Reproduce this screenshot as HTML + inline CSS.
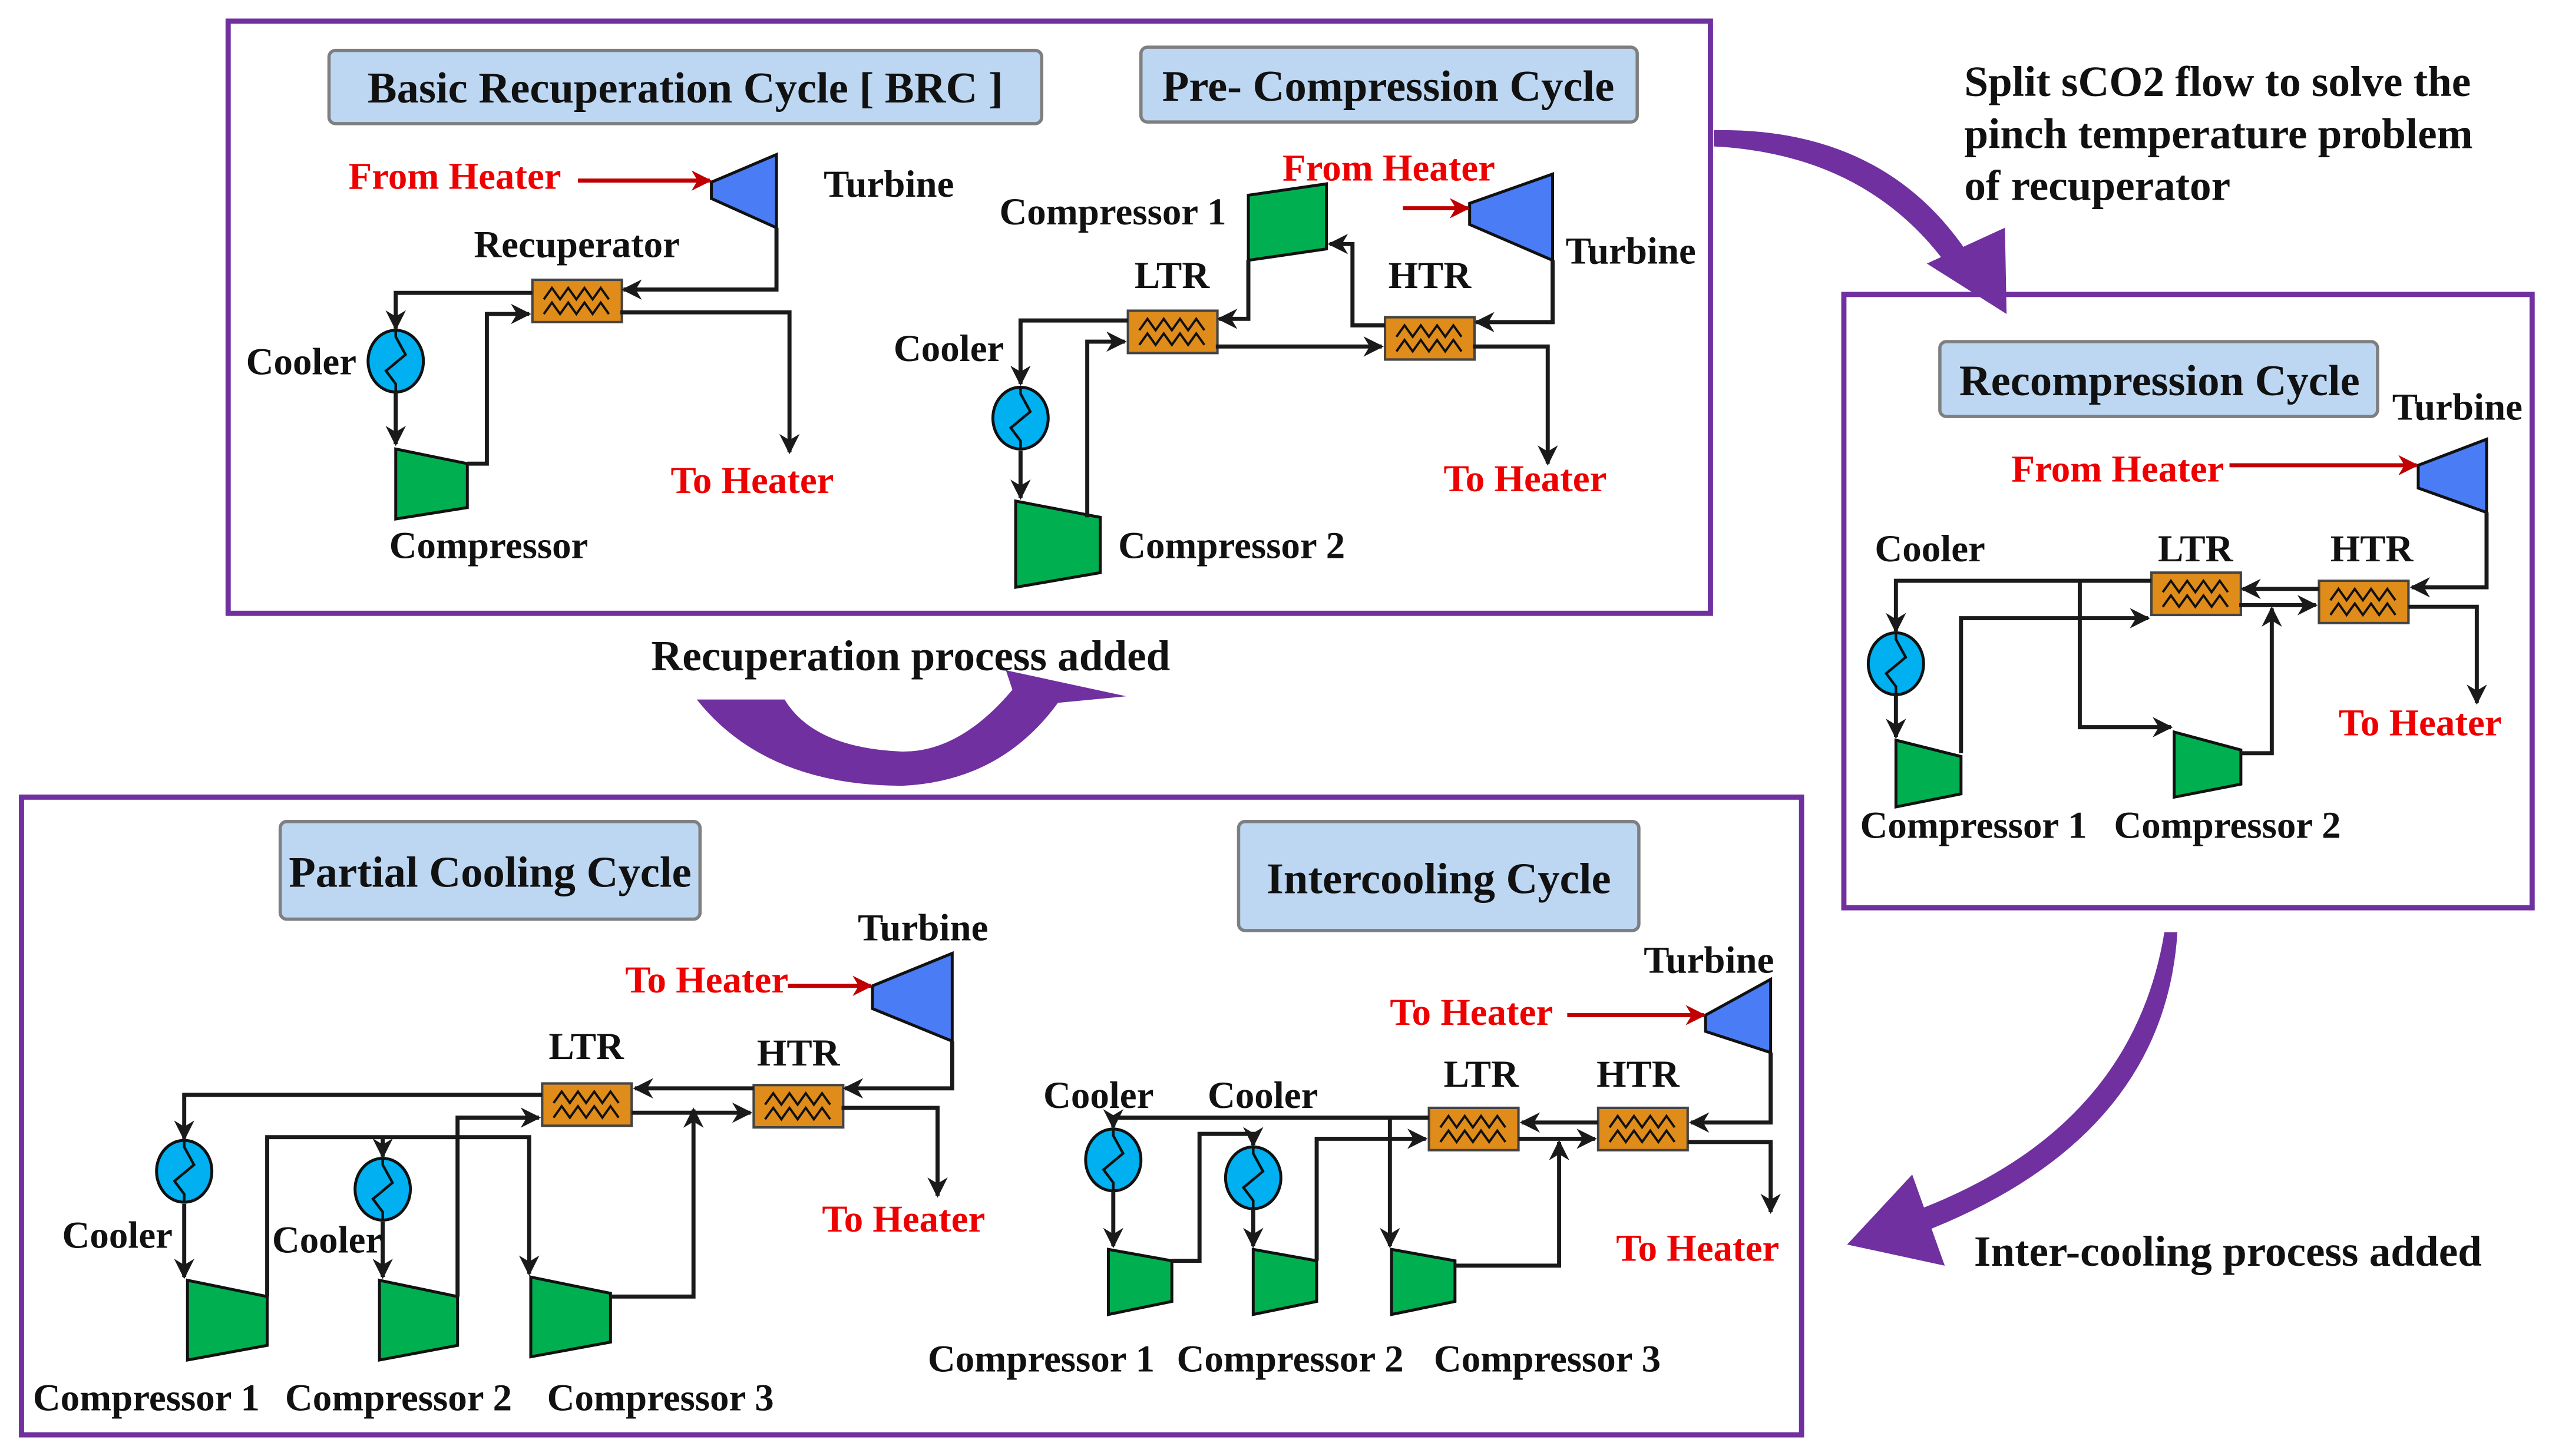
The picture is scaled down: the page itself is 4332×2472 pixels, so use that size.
<!DOCTYPE html>
<html><head><meta charset="utf-8"><style>
html,body{margin:0;padding:0;background:#fff}
svg{display:block}
text{font-family:"Liberation Serif",serif;font-weight:bold;fill:#111}
.r{fill:#ee0000}
</style></head><body>
<svg width="4332" height="2472" viewBox="0 0 1568 895" xmlns="http://www.w3.org/2000/svg">
<defs>
<marker id="a" viewBox="0 0 10 10" refX="9" refY="5" markerWidth="5" markerHeight="5" orient="auto" markerUnits="strokeWidth"><path d="M0,0 L10,5 L0,10 L3,5 Z" fill="#1a1a1a"/></marker>
<marker id="ar" viewBox="0 0 10 10" refX="9" refY="5" markerWidth="5" markerHeight="5" orient="auto" markerUnits="strokeWidth"><path d="M0,0 L10,5 L0,10 L3,5 Z" fill="#c00000"/></marker>
<g id="hx"><rect x="0" y="0" width="55" height="26" fill="#df8c1a" stroke="#444" stroke-width="1.5"/>
<polyline points="7,12 12,5 17,12 22,5 27,12 32,5 37,12 42,5 47,12" fill="none" stroke="#111" stroke-width="1.4"/>
<polyline points="7,21 12,14 17,21 22,14 27,21 32,14 37,21 42,14 47,21" fill="none" stroke="#111" stroke-width="1.4"/></g>
<g id="cl"><ellipse cx="0" cy="0" rx="17" ry="19" fill="#00b0f0" stroke="#111" stroke-width="1.8"/>
<polyline points="0,-19 0,-15 6,-4 -6,6 0,14 0,19" fill="none" stroke="#111" stroke-width="1.6"/></g>
</defs>
<g fill="none" stroke-width="3.2" stroke="#7030a0">
<rect x="140" y="13" width="911" height="364"/>
<rect x="1133" y="181" width="423" height="377"/>
<rect x="13" y="490" width="1094" height="392"/>
</g>
<g fill="#bdd7f2" stroke="#7f7f7f" stroke-width="2">
<rect x="202" y="31" width="438" height="45" rx="4"/>
<rect x="701" y="29" width="305" height="46" rx="4"/>
<rect x="1192" y="210" width="269" height="46" rx="4"/>
<rect x="172" y="505" width="258" height="60" rx="4"/>
<rect x="761" y="505" width="246" height="67" rx="4"/>
</g>
<g font-size="27" text-anchor="middle">
<text x="421" y="63">Basic Recuperation Cycle [ BRC ]</text>
<text x="853" y="62">Pre- Compression Cycle</text>
<text x="1327" y="243">Recompression Cycle</text>
<text x="301" y="545">Partial Cooling Cycle</text>
<text x="884" y="549">Intercooling Cycle</text>
</g>
<g font-size="26.5">
<text x="1207" y="59">Split sCO2 flow to solve the</text>
<text x="1207" y="91">pinch temperature problem</text>
<text x="1207" y="123">of recuperator</text>
<text x="400" y="412">Recuperation process added</text>
<text x="1213" y="778">Inter-cooling process added</text>
</g>
<!-- purple arrows -->
<g fill="#7030a0">
<path d="M1053,80 Q1160,78 1212,160 L1200,168 Q1150,95 1053,90 Z"/>
<polygon points="1184,162 1233,193 1232,140"/>
<path d="M428,430 Q470,483 555,483 Q615,480 650,432 L692,428 L618,412 L622,424 Q590,462 555,462 Q500,460 482,430 Z"/>
<path d="M1330,573 L1338,573 Q1330,700 1180,758 L1175,745 Q1310,695 1330,573 Z"/>
<polygon points="1135,765 1175,722 1195,778"/>
</g>
<!-- turbines / compressors -->
<g stroke="#111" stroke-width="1.8">
<g fill="#4a7cf5">
<polygon points="437,112 477,95 477,140 437,122"/>
<polygon points="903,125 954,107 954,160 903,138"/>
<polygon points="1486,286 1528,270 1528,315 1486,300"/>
<polygon points="536,606 585,586 585,640 536,620"/>
<polygon points="1048,624 1088,602 1088,647 1048,634"/>
</g>
<g fill="#00b050">
<polygon points="243,276 287,285 287,312 243,319"/>
<polygon points="767,120 815,113 815,153 767,160"/>
<polygon points="624,308 676,318 676,352 624,361"/>
<polygon points="1165,455 1205,465 1205,488 1165,496"/>
<polygon points="1336,450 1377,461 1377,482 1336,490"/>
<polygon points="115,787 164,797 164,827 115,836"/>
<polygon points="233,787 281,797 281,827 233,836"/>
<polygon points="326,785 375,795 375,825 326,834"/>
<polygon points="681,768 720,775 720,800 681,808"/>
<polygon points="770,768 809,775 809,800 770,808"/>
<polygon points="855,768 894,775 894,800 855,808"/>
</g>
</g>
<!-- heat exchangers -->
<use href="#hx" x="327" y="172"/>
<use href="#hx" x="693" y="191"/>
<use href="#hx" x="851" y="195"/>
<use href="#hx" x="1322" y="352"/>
<use href="#hx" x="1425" y="357"/>
<use href="#hx" x="333" y="666"/>
<use href="#hx" x="463" y="667"/>
<use href="#hx" x="878" y="681"/>
<use href="#hx" x="982" y="681"/>
<!-- coolers -->
<use href="#cl" x="243" y="222"/>
<use href="#cl" x="627" y="257"/>
<use href="#cl" x="1165" y="408"/>
<use href="#cl" x="113" y="720"/>
<use href="#cl" x="235" y="731"/>
<use href="#cl" x="684" y="713"/>
<use href="#cl" x="770" y="724"/>
<!-- red arrows -->
<g stroke="#c00000" stroke-width="2.5" fill="none" marker-end="url(#ar)">
<line x1="355" y1="111" x2="436" y2="111"/>
<line x1="862" y1="128" x2="902" y2="128"/>
<line x1="1370" y1="286" x2="1485" y2="286"/>
<line x1="484" y1="606" x2="535" y2="606"/>
<line x1="963" y1="624" x2="1047" y2="624"/>
</g>
<!-- black flow lines -->
<g stroke="#1a1a1a" stroke-width="2.5" fill="none" marker-end="url(#a)">
<polyline points="477,140 477,178 383,178"/>
<polyline points="327,180 243,180 243,202"/>
<polyline points="243,241 243,273"/>
<polyline points="287,285 299,285 299,193 325,193"/>
<polyline points="381,192 485,192 485,278"/>
<polyline points="954,160 954,198 907,198"/>
<polyline points="905,213 951,213 951,285"/>
<polyline points="851,200 831,200 831,150 817,150"/>
<polyline points="767,160 767,196 749,196"/>
<polyline points="747,213 849,213"/>
<polyline points="693,197 627,197 627,236"/>
<polyline points="627,277 627,306"/>
<polyline points="668,318 668,210 691,210"/>
<polyline points="1528,315 1528,361 1482,361"/>
<polyline points="1480,373 1522,373 1522,432"/>
<polyline points="1425,362 1378,362"/>
<polyline points="1322,357 1165,357 1165,388"/>
<polyline points="1165,427 1165,453"/>
<polyline points="1205,463 1205,380 1320,380"/>
<polyline points="1278,357 1278,447 1334,447"/>
<polyline points="1377,463 1396,463 1396,374"/>
<polyline points="1376,372 1423,372"/>
<polyline points="585,640 585,669 519,669"/>
<polyline points="517,681 576,681 576,735"/>
<polyline points="463,669 390,669"/>
<polyline points="333,673 113,673 113,700"/>
<polyline points="113,740 113,785"/>
<polyline points="164,797 164,699 325,699 325,783"/>
<polyline points="235,699 235,711"/>
<polyline points="235,751 235,785"/>
<polyline points="281,797 281,687 331,687"/>
<polyline points="375,797 426,797 426,682"/>
<polyline points="388,684 461,684"/>
<polyline points="1088,647 1088,690 1039,690"/>
<polyline points="1037,702 1088,702 1088,745"/>
<polyline points="982,690 935,690"/>
<polyline points="878,687 684,687 684,693"/>
<polyline points="684,732 684,766"/>
<polyline points="720,775 737,775 737,697 770,697 770,704"/>
<polyline points="770,743 770,766"/>
<polyline points="809,775 809,700 876,700"/>
<polyline points="854,687 854,766"/>
<polyline points="894,778 958,778 958,702"/>
<polyline points="933,700 980,700"/>
</g>
<!-- labels -->
<g font-size="23.5">
<text class="r" x="214" y="116">From Heater</text>
<text x="506" y="121">Turbine</text>
<text x="291" y="158">Recuperator</text>
<text x="151" y="230">Cooler</text>
<text class="r" x="412" y="303">To Heater</text>
<text x="239" y="343">Compressor</text>

<text x="614" y="138">Compressor 1</text>
<text class="r" x="788" y="111">From Heater</text>
<text x="962" y="162">Turbine</text>
<text x="697" y="177">LTR</text>
<text x="853" y="177">HTR</text>
<text x="549" y="222">Cooler</text>
<text class="r" x="887" y="302">To Heater</text>
<text x="687" y="343">Compressor 2</text>

<text x="1470" y="258">Turbine</text>
<text class="r" x="1236" y="296">From Heater</text>
<text x="1152" y="345">Cooler</text>
<text x="1326" y="345">LTR</text>
<text x="1432" y="345">HTR</text>
<text class="r" x="1437" y="452">To Heater</text>
<text x="1143" y="515">Compressor 1</text>
<text x="1299" y="515">Compressor 2</text>

<text x="527" y="578">Turbine</text>
<text class="r" x="384" y="610">To Heater</text>
<text x="337" y="651">LTR</text>
<text x="465" y="655">HTR</text>
<text class="r" x="505" y="757">To Heater</text>
<text x="38" y="767">Cooler</text>
<text x="167" y="770">Cooler</text>
<text x="20" y="867">Compressor 1</text>
<text x="175" y="867">Compressor 2</text>
<text x="336" y="867">Compressor 3</text>

<text x="1010" y="598">Turbine</text>
<text class="r" x="854" y="630">To Heater</text>
<text x="887" y="668">LTR</text>
<text x="981" y="668">HTR</text>
<text x="641" y="681">Cooler</text>
<text x="742" y="681">Cooler</text>
<text class="r" x="993" y="775">To Heater</text>
<text x="570" y="843">Compressor 1</text>
<text x="723" y="843">Compressor 2</text>
<text x="881" y="843">Compressor 3</text>
</g>
</svg>
</body></html>
